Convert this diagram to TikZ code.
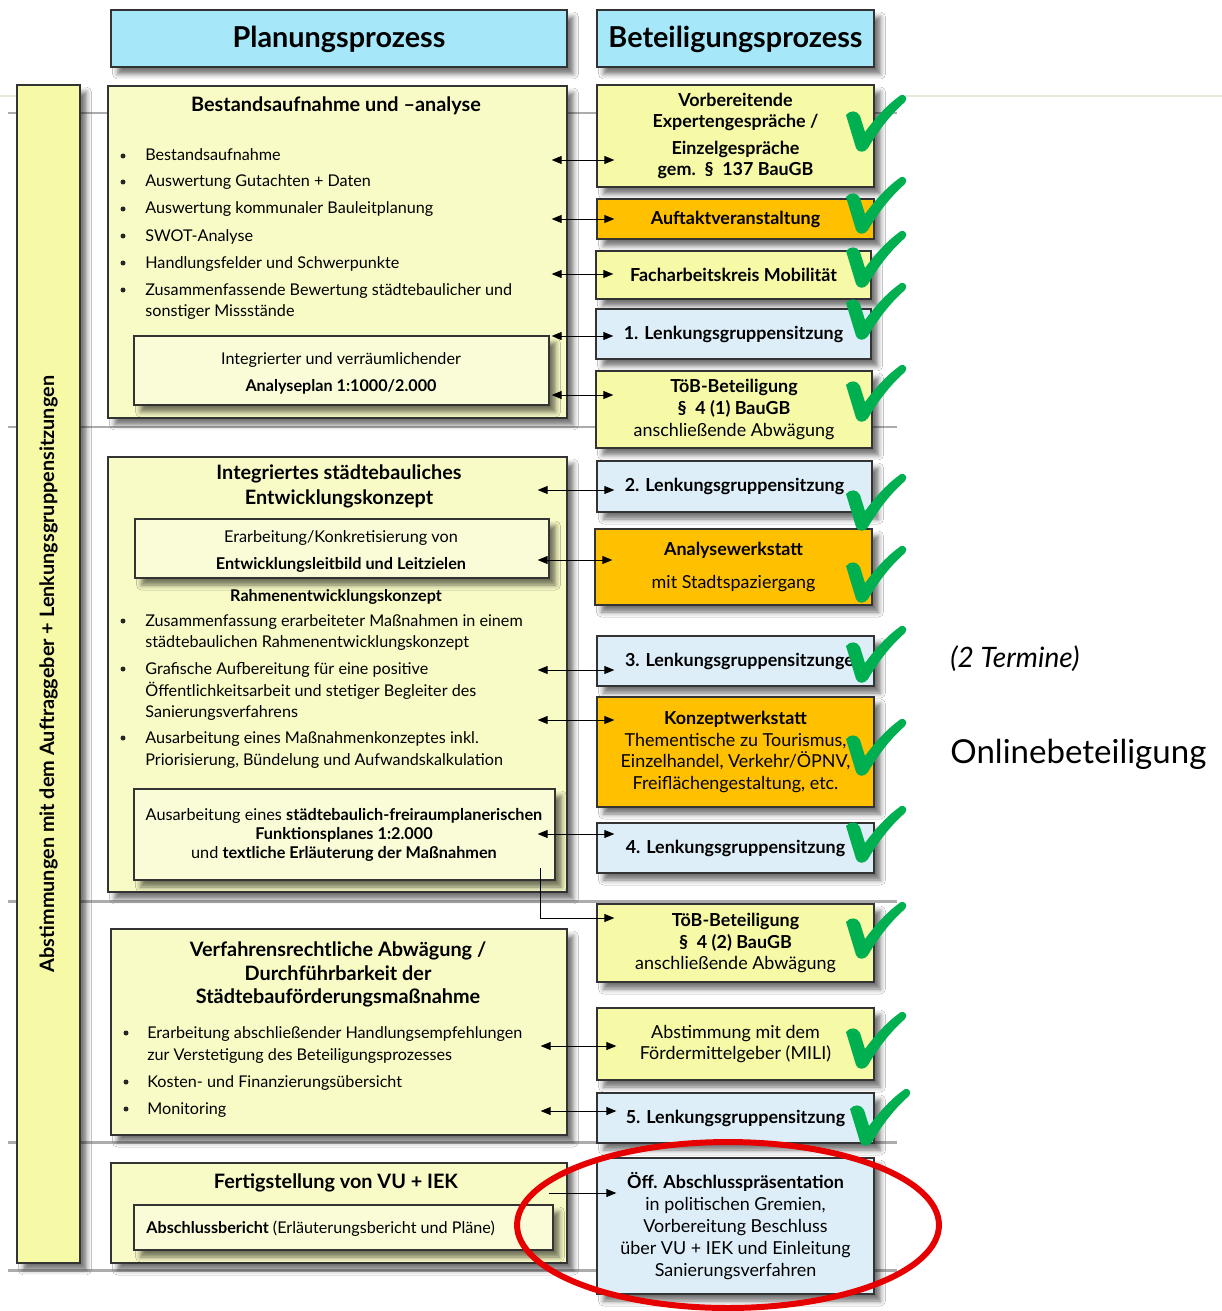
\documentclass[tikz,border=0pt]{standalone}
\usepackage{fontspec}
\setmainfont{Lato}
\usetikzlibrary{arrows.meta,shadows.blur,calc}

\definecolor{headblue}{RGB}{166,232,250}
\definecolor{baryellow}{RGB}{246,249,166}
\definecolor{paleyellow}{RGB}{249,251,198}
\definecolor{inneryellow}{RGB}{250,252,216}
\definecolor{boxorange}{RGB}{255,192,0}
\definecolor{boxblue}{RGB}{221,238,248}
\definecolor{okgreen}{RGB}{0,176,80}
\definecolor{rulegray}{RGB}{172,172,172}
\definecolor{rulebeige}{RGB}{232,232,220}
\definecolor{ringred}{RGB}{230,0,0}

\newcommand\fBody{\fontsize{9.2}{11}\selectfont}
\newcommand\fSmall{\fontsize{9.25}{10}\selectfont}
\newcommand\fTitle{\fontsize{11.3}{13}\selectfont\bfseries}
\newcommand\fHead{\fontsize{16.4}{19}\selectfont\bfseries}
\newcommand\fRight{\fontsize{10.2}{12.4}\selectfont}
\newcommand\fSide{\fontsize{11.3}{13}\selectfont\bfseries}

\begin{document}
\begin{tikzpicture}[x=0.02cm, y=-0.02cm,
  box/.style={draw=black!80, line width=0.8pt, inner sep=0pt,
    blur shadow={shadow xshift=0.13cm, shadow yshift=-0.14cm, shadow blur radius=0.1cm, shadow opacity=55}},
  head/.style={box, fill=headblue, minimum height=1.14cm, font=\fHead, text depth=0.05cm},
  rbox/.style={box, minimum width=5.54cm, align=center, font=\fRight},
  lbox/.style={box, fill=paleyellow},
  ibox/.style={box, fill=inneryellow},
  txt/.style={anchor=base west, inner sep=0pt, font=\fBody},
  ctr/.style={anchor=base, inner sep=0pt, font=\fBody},
  ttl/.style={anchor=base, inner sep=0pt, font=\fTitle},
  bul/.style={circle, fill=black!85, inner sep=0pt, minimum size=0.1cm},
  gridrule/.style={rulegray, line width=1.7pt},
  link/.style={{Triangle[length=0.2cm,width=0.16cm]}-{Triangle[length=0.2cm,width=0.16cm]}, line width=0.5pt},
  one/.style={-{Triangle[length=0.2cm,width=0.16cm]}, line width=0.5pt},
  okmark/.pic={\fill[okgreen] (0,20) .. controls (4,15) and (11,15) .. (14,21) -- (19,37)
      .. controls (30,22) and (42,9) .. (55,0) .. controls (59,-1) and (62,3) .. (59,7)
      .. controls (45,19) and (32,36) .. (22,53) .. controls (19,58) and (12,58) .. (10,53) -- cycle;}]

  \fill[white] (0,0) rectangle (1222,1311);
  \useasboundingbox (0,0) rectangle (1222,1311);

  % background rules
  \foreach \y in {113,427,901,1142,1270} \draw[gridrule] (8,\y) -- (897,\y);
  \draw[rulebeige, line width=1.7pt] (0,96) -- (16,96) (905,96) -- (1222,96);

  % headers
  \node[head, minimum width=9.12cm] (plan) at (339,38.5) {Planungsprozess};
  \node[head, minimum width=5.54cm] (bet) at (735.5,38.5) {Beteiligungsprozess};

  % side bar
  \node[box, fill=baryellow, minimum width=1.26cm, minimum height=23.56cm] (bar) at (48.5,674) {};
  \node[rotate=90, font=\fSide] (bartext) at (bar.center) {Abstimmungen mit dem Auftraggeber + Lenkungsgruppensitzungen};

  % planning column
  \node[lbox, minimum width=9.18cm, minimum height=6.64cm] (bestand) at (337.5,252) {};
  \node[ibox, minimum width=8.3cm, minimum height=1.38cm] (aplan) at (341.5,370.5) {};
  \node[lbox, minimum width=9.18cm, minimum height=8.7cm] (isek) at (337.5,674.5) {};
  \node[ibox, minimum width=8.28cm, minimum height=1.18cm] (leitbild) at (342,548.5) {};
  \node[ibox, minimum width=8.42cm, minimum height=1.82cm] (funk) at (344.5,834.5) {};
  \node[lbox, minimum width=9.12cm, minimum height=4.12cm] (verf) at (339,1032) {};
  \node[lbox, minimum width=9.12cm, minimum height=2cm] (fertig) at (339,1213) {};
  \node[ibox, minimum width=8.38cm, minimum height=0.9cm] (bericht) at (343.5,1227.5) {};

  \node[ttl] (bestandT) at (336,112) {Bestandsaufnahme und –analyse};
  \foreach \y/\t [count=\i] in {161/Bestandsaufnahme, 187/Auswertung Gutachten + Daten,
      214/Auswertung kommunaler Bauleitplanung, 241/SWOT-Analyse, 268/Handlungsfelder und Schwerpunkte,
      295/Zusammenfassende Bewertung städtebaulicher und, 316/sonstiger Missstände}
    \node[txt] (ba\i) at (145,\y) {\t};
  \foreach \y [count=\i] in {161,187,214,241,268,295} \node[bul] (bb\i) at (123,\y-5) {};
  \node[ctr] (aplan1) at (341,364) {Integrierter und verräumlichender};
  \node[ctr, font=\fBody\bfseries] (aplan2) at (341,391) {Analyseplan 1:1000/2.000};

  \node[ttl] (isek1) at (339,479) {Integriertes städtebauliches};
  \node[ttl] (isek2) at (339,504) {Entwicklungskonzept};
  \node[ctr, font=\fSmall] (leit1) at (341,542) {Erarbeitung/Konkretisierung von};
  \node[ctr, font=\fSmall\bfseries] (leit2) at (341,569) {Entwicklungsleitbild und Leitzielen};
  \node[ctr, font=\fBody\bfseries] (rahmen) at (336,601) {Rahmenentwicklungskonzept};
  \foreach \y/\t [count=\i] in {626/Zusammenfassung erarbeiteter Maßnahmen in einem,
      647/städtebaulichen Rahmenentwicklungskonzept, 674/Grafische Aufbereitung für eine positive,
      696/Öffentlichkeitsarbeit und stetiger Begleiter des, 717/Sanierungsverfahrens,
      743/Ausarbeitung eines Maßnahmenkonzeptes inkl., 765/{Priorisierung, Bündelung und Aufwandskalkulation}}
    \node[txt] (ia\i) at (145,\y) {\t};
  \foreach \y [count=\i] in {626,674,743} \node[bul] (ib\i) at (123,\y-5) {};
  \node[ctr, font=\fSmall] (funk1) at (344,820) {Ausarbeitung eines \textbf{städtebaulich-freiraumplanerischen}};
  \node[ctr, font=\fSmall\bfseries] (funk2) at (344,839) {Funktionsplanes 1:2.000};
  \node[ctr, font=\fSmall] (funk3) at (344,858) {und \textbf{textliche Erläuterung der Maßnahmen}};

  \node[ttl] (verf1) at (338,956) {Verfahrensrechtliche Abwägung /};
  \node[ttl] (verf2) at (338,980) {Durchführbarkeit der};
  \node[ttl] (verf3) at (338,1003) {Städtebauförderungsmaßnahme};
  \foreach \y/\t [count=\i] in {1038/Erarbeitung abschließender Handlungsempfehlungen,
      1060/zur Verstetigung des Beteiligungsprozesses, 1087/Kosten- und Finanzierungsübersicht, 1114/Monitoring}
    \node[txt] (va\i) at (147,\y) {\t};
  \foreach \y [count=\i] in {1038,1087,1114} \node[bul] (vb\i) at (126,\y-5) {};

  \node[ttl] (fertigT) at (336,1188) {Fertigstellung von VU + IEK};
  \node[txt] (bericht1) at (146,1233) {\textbf{Abschlussbericht} (Erläuterungsbericht und Pläne)};

  % participation column
  \node[rbox, fill=baryellow, minimum height=2.04cm, font=\fRight\bfseries] (vorb) at (735.5,136)
    {Vorbereitende\\Expertengespräche /\\[2.5pt]Einzelgespräche\\gem.\ \ §\ \ 137 BauGB};
  \node[rbox, fill=boxorange, minimum height=0.8cm, font=\fRight\bfseries] (auftakt) at (735.5,219) {Auftaktveranstaltung};
  \node[rbox, fill=baryellow, minimum width=5.5cm, minimum height=0.96cm, font=\fRight\bfseries] (fach) at (733.5,275) {Facharbeitskreis Mobilität};
  \node[rbox, fill=boxblue, minimum width=5.5cm, minimum height=1cm, font=\fRight\bfseries] (lg1) at (733.5,334) {1. Lenkungsgruppensitzung};
  \node[rbox, fill=baryellow, minimum width=5.52cm, minimum height=1.54cm] (toeb1) at (734,409.5)
    {\textbf{TöB-Beteiligung}\\\textbf{§\ \ 4 (1) BauGB}\\anschließende Abwägung};
  \node[rbox, fill=boxblue, minimum width=5.5cm, minimum height=1.02cm, font=\fRight\bfseries] (lg2) at (734.5,486.5) {2. Lenkungsgruppensitzung};
  \node[rbox, fill=boxorange, minimum height=1.52cm] (analyse) at (733.5,567) {\textbf{Analysewerkstatt}\\[6pt]mit Stadtspaziergang};
  \node[rbox, fill=boxblue, minimum height=1cm, font=\fRight\bfseries] (lg3) at (735.5,661) {3. Lenkungsgruppensitzungen\hspace*{-0.36cm}};
  \node[rbox, fill=boxorange, minimum height=2.2cm] (konzept) at (735.5,752)
    {\textbf{Konzeptwerkstatt}\\Thementische zu Tourismus,\\Einzelhandel, Verkehr/ÖPNV,\\Freiflächengestaltung, etc.};
  \node[rbox, fill=boxblue, minimum height=1cm, font=\fRight\bfseries] (lg4) at (735.5,848) {4. Lenkungsgruppensitzung};
  \node[rbox, fill=baryellow, minimum height=1.56cm] (toeb2) at (735.5,943)
    {\textbf{TöB-Beteiligung}\\\textbf{§\ \ 4 (2) BauGB}\\anschließende Abwägung};
  \node[rbox, fill=baryellow, minimum height=1.44cm] (mili) at (735.5,1044) {Abstimmung mit dem\\Fördermittelgeber (MILI)};
  \node[rbox, fill=boxblue, minimum height=1cm, font=\fRight\bfseries] (lg5) at (735.5,1118) {5. Lenkungsgruppensitzung};
  \node[rbox, fill=boxblue, minimum height=2.72cm] (praes) at (735.5,1226)
    {\textbf{Öff. Abschlusspräsentation}\\in politischen Gremien,\\Vorbereitung Beschluss\\über VU + IEK und Einleitung\\Sanierungsverfahren};

  % links
  \begin{scope}[link, shorten <=-0.32cm, shorten >=-0.36cm]
    \draw (bestand.east |- 0,160) -- (vorb.west |- 0,160);
    \draw (bestand.east |- 0,219) -- (auftakt.west |- 0,219);
    \draw (bestand.east |- 0,274) -- (fach.west |- 0,274);
    \draw (bestand.east |- 0,336) -- (lg1.west |- 0,336);
    \draw (bestand.east |- 0,395) -- (toeb1.west |- 0,395);
  \end{scope}
  \begin{scope}[link, shorten <=-0.6cm, shorten >=-0.36cm]
    \draw (isek.east |- 0,490) -- (lg2.west |- 0,490);
    \draw (isek.east |- 0,560) -- (analyse.west |- 0,560);
    \draw (isek.east |- 0,670) -- (lg3.west |- 0,670);
    \draw (isek.east |- 0,720) -- (konzept.west |- 0,720);
    \draw (isek.east |- 0,834) -- (lg4.west |- 0,834);
  \end{scope}
  \begin{scope}[link, shorten <=-0.54cm, shorten >=-0.4cm]
    \draw (verf.east |- 0,1046) -- (mili.west |- 0,1046);
    \draw (verf.east |- 0,1111) -- (lg5.west |- 0,1111);
  \end{scope}
  \draw[one, shorten >=-0.36cm] ($(funk.south east)+(-15,-13)$) |- (toeb2.west |- 0,918);
  \draw[one, shorten <=-0.38cm, shorten >=-0.4cm] (fertig.east |- 0,1193) -- (praes.west |- 0,1193);

  % ticks
  \foreach \x/\y in {846/95, 846/177, 846/231, 846/283, 846/365, 846/474, 846/546, 846/626,
      846/719, 846/806, 846/902, 846/1012, 850/1089}
    \pic at (\x,\y) {okmark};

  \draw[ringred, line width=3.4pt] (728,1225) ellipse [x radius=4.22cm, y radius=1.66cm];

  \node[anchor=base west, inner sep=0pt, font=\fontsize{16}{18}\selectfont\itshape] (termine) at (950,667) {(2 Termine)};
  \node[anchor=base west, inner sep=0pt, font=\fontsize{18.8}{22}\selectfont] (online) at (950,763) {Onlinebeteiligung};
\end{tikzpicture}
\end{document}
